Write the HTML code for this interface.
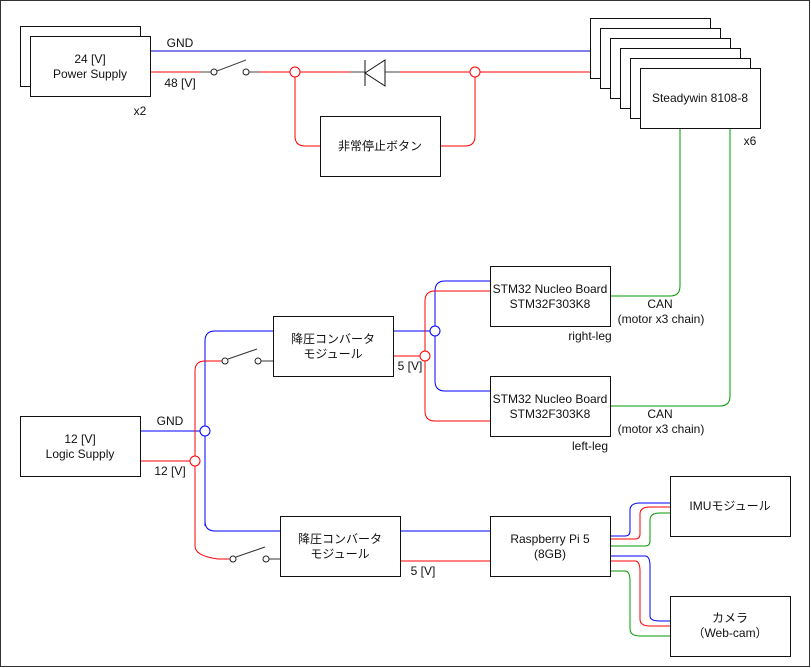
<!DOCTYPE html>
<html><head><meta charset="utf-8"><style>
html,body{margin:0;padding:0;background:#fff;}
svg{display:block;}
text{font-family:"Liberation Sans","Noto Sans CJK JP",sans-serif;font-size:12px;fill:#111;}
</style></head><body>
<svg width="811" height="668" viewBox="0 0 811 668" xmlns="http://www.w3.org/2000/svg">
<rect x="0.5" y="0.5" width="809" height="666" fill="#fff" stroke="#333"/>
<g fill="none" stroke-width="1">
<!-- top power -->
<path d="M150 51H590" stroke="#0000cc"/>
<path d="M150 72H200 M260 72H290 M300 72H350 M400 72H470 M480 72H590" stroke="#f00"/>
<path d="M200 72H211 M249 72H260 M350 72H365 M385 72H400 M217 71L246 60" stroke="#444"/>
<circle cx="214" cy="72" r="3" stroke="#222" fill="#fff"/>
<circle cx="246" cy="72" r="3" stroke="#222" fill="#fff"/>
<path d="M365 60V86 M365 73L385 60V86Z" stroke="#111" fill="#fff"/>
<circle cx="295" cy="72" r="5" stroke="#f00" fill="#fff"/>
<circle cx="475" cy="72" r="5" stroke="#f00" fill="#fff"/>
<path d="M295 77V136Q295 146 305 146H320 M440 146H465Q475 146 475 136V77" stroke="#f00"/>
<!-- CAN -->
<path d="M680 128V286Q680 296 670 296H610 M730 128V396Q730 406 720 406H610" stroke="#090"/>
<!-- logic -->
<path d="M140 431H200 M205 526V341Q205 331 215 331H273 M205 521Q205 531 215 531H280" stroke="#00f"/>
<path d="M140 461H190 M195 466V546Q195 556 218 559H230 M195 456V371Q195 361 205 361H222" stroke="#f00"/>
<path d="M228 359L257 349 M261 361H273 M236 557L265 547 M269 559H280" stroke="#333"/>
<circle cx="225" cy="361" r="3" stroke="#222" fill="#fff"/>
<circle cx="258" cy="361" r="3" stroke="#222" fill="#fff"/>
<circle cx="233" cy="559" r="3" stroke="#222" fill="#fff"/>
<circle cx="266" cy="559" r="3" stroke="#222" fill="#fff"/>
<!-- upper converter out -->
<path d="M393 331H430 M435 336V381Q435 391 445 391H490 M435 326V291Q435 281 445 281H490" stroke="#00f"/>
<path d="M393 356H420 M425 361V411Q425 421 435 421H490 M425 351V301Q425 291 435 291H490" stroke="#f00"/>
<circle cx="205" cy="431" r="5" stroke="#00f" fill="#fff"/>
<circle cx="195" cy="461" r="5" stroke="#f00" fill="#fff"/>
<circle cx="435" cy="331" r="5" stroke="#00f" fill="#fff"/>
<circle cx="425" cy="356" r="5" stroke="#f00" fill="#fff"/>
<!-- lower converter out -->
<path d="M400 531H490" stroke="#00f"/>
<path d="M400 561H490" stroke="#f00"/>
<!-- RPi to IMU / camera -->
<path d="M610 536H625Q630 536 630 531V510Q630 503 640 503H670" stroke="#00f"/>
<path d="M610 539H635Q640 539 640 534V514Q640 507 650 507H670" stroke="#f00"/>
<path d="M610 546H645Q650 546 650 541V520Q650 513 660 513H670" stroke="#090"/>
<path d="M610 556H645Q650 556 650 566V616Q650 621 660 621H670" stroke="#00f"/>
<path d="M610 561H635Q640 561 640 571V619Q640 626 650 626H670" stroke="#f00"/>
<path d="M610 571H625Q630 571 630 581V629Q630 636 640 636H670" stroke="#090"/>
</g>
<g fill="#fff" stroke="#111">
<rect x="20.5" y="26.5" width="120" height="60"/>
<rect x="30.5" y="36.5" width="120" height="60"/>
<rect x="320.5" y="116.5" width="120" height="60"/>
<rect x="590.5" y="18.5" width="120" height="60"/>
<rect x="600.5" y="28.5" width="120" height="60"/>
<rect x="610.5" y="38.5" width="120" height="60"/>
<rect x="620.5" y="48.5" width="120" height="60"/>
<rect x="630.5" y="58.5" width="120" height="60"/>
<rect x="640.5" y="68.5" width="120" height="60"/>
<rect x="490.5" y="266.5" width="120" height="60"/>
<rect x="490.5" y="376.5" width="120" height="60"/>
<rect x="273.5" y="316.5" width="120" height="60"/>
<rect x="280.5" y="516.5" width="120" height="60"/>
<rect x="20.5" y="416.5" width="120" height="60"/>
<rect x="490.5" y="516.5" width="120" height="60"/>
<rect x="670.5" y="476.5" width="120" height="60"/>
<rect x="670.5" y="596.5" width="120" height="60"/>
</g>
<g text-anchor="middle">
<text x="90" y="63">24 [V]</text><text x="90" y="78">Power Supply</text>
<text x="380" y="150">非常停止ボタン</text>
<text x="700" y="102">Steadywin 8108-8</text>
<text x="550" y="293">STM32 Nucleo Board</text><text x="550" y="308">STM32F303K8</text>
<text x="550" y="403">STM32 Nucleo Board</text><text x="550" y="418">STM32F303K8</text>
<text x="333" y="343">降圧コンバータ</text><text x="333" y="358">モジュール</text>
<text x="340" y="543">降圧コンバータ</text><text x="340" y="558">モジュール</text>
<text x="80" y="443">12 [V]</text><text x="80" y="458">Logic Supply</text>
<text x="550" y="543">Raspberry Pi 5</text><text x="550" y="558">(8GB)</text>
<text x="730" y="510">IMUモジュール</text>
<text x="730" y="622">カメラ</text><text x="730" y="637">（Web-cam）</text>
<text x="660" y="308">CAN</text><text x="661" y="323">(motor x3 chain)</text>
<text x="660" y="418">CAN</text><text x="661" y="433">(motor x3 chain)</text>
<text x="180" y="47">GND</text>
<text x="180" y="87">48 [V]</text>
<text x="140" y="115">x2</text>
<text x="750" y="145">x6</text>
<text x="590" y="340">right-leg</text>
<text x="590" y="450">left-leg</text>
<text x="170" y="425">GND</text>
<text x="170" y="475">12 [V]</text>
<text x="410" y="370">5 [V]</text>
<text x="423" y="575">5 [V]</text>
</g>
</svg>
</body></html>
